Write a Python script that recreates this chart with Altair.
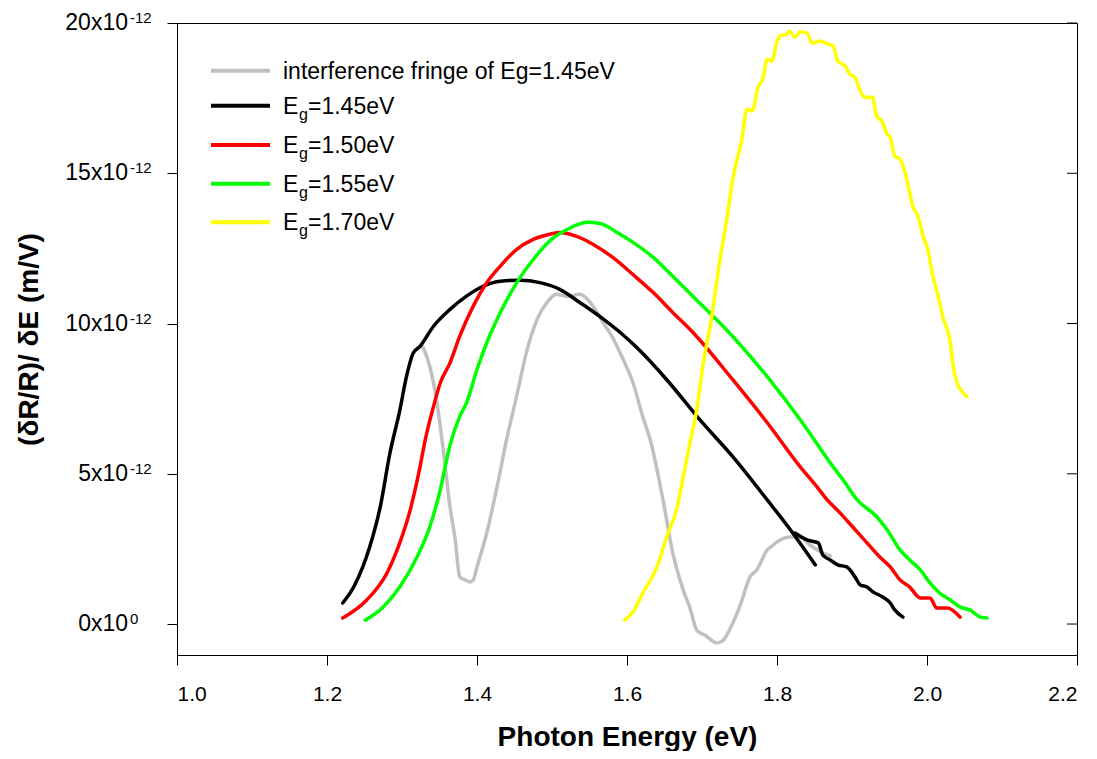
import altair as alt
import pandas as pd

# ---------------- data (y values in units of 1e-12 m/V) ----------------
fringe_E = [1.328, 1.337, 1.346, 1.355, 1.364, 1.371, 1.377, 1.384, 1.391, 1.395, 1.400, 1.413,
            1.427, 1.440, 1.453, 1.466, 1.480, 1.493, 1.506, 1.520, 1.537, 1.551, 1.560, 1.568,
            1.577, 1.587, 1.595, 1.608, 1.621, 1.631, 1.648, 1.661, 1.675, 1.684, 1.693, 1.704,
            1.720, 1.727, 1.741, 1.751, 1.764, 1.773, 1.787, 1.795, 1.804, 1.817, 1.831, 1.844,
            1.861, 1.871]
fringe_V = [9.22, 8.58, 7.47, 5.80, 3.90, 2.80, 1.57, 1.47, 1.40, 1.47, 1.90, 3.03,
            4.60, 6.20, 7.60, 9.05, 10.13, 10.69, 10.97, 10.90, 10.97, 10.70, 10.37, 10.03,
            9.70, 9.23, 8.80, 8.03, 6.90, 6.13, 4.13, 2.37, 1.13, 0.53, -0.20, -0.37,
            -0.63, -0.57, 0.03, 0.63, 1.57, 1.80, 2.47, 2.63, 2.80, 2.90, 2.90, 2.63,
            2.37, 2.27]

eg145_E = [1.221, 1.237, 1.257, 1.271, 1.284, 1.297, 1.306, 1.315, 1.324, 1.342, 1.364, 1.386,
           1.408, 1.431, 1.457, 1.484, 1.511, 1.537, 1.564, 1.591, 1.613, 1.653, 1.697, 1.741,
           1.787, 1.821, 1.851]
eg145_V = [0.70, 1.30, 2.57, 3.90, 5.70, 7.10, 8.24, 9.02, 9.24, 9.91, 10.47, 10.91,
           11.24, 11.41, 11.44, 11.36, 11.13, 10.70, 10.23, 9.70, 9.20, 8.13, 6.80, 5.57,
           4.13, 3.03, 1.97]
eg145_tail_E = [1.824, 1.840, 1.855, 1.861, 1.871, 1.881, 1.893, 1.904, 1.911, 1.920, 1.928,
                1.941, 1.951, 1.957, 1.968]
eg145_tail_V = [3.03, 2.80, 2.70, 2.30, 2.13, 1.97, 1.90, 1.57, 1.30, 1.23, 1.07,
                0.90, 0.70, 0.47, 0.23]

eg150_E = [1.221, 1.253, 1.280, 1.297, 1.311, 1.324, 1.331, 1.342, 1.351, 1.364, 1.377, 1.395,
           1.413, 1.431, 1.453, 1.475, 1.497, 1.511, 1.533, 1.555, 1.581, 1.608, 1.635, 1.661,
           1.688, 1.741, 1.787, 1.831, 1.853, 1.867, 1.884, 1.901, 1.920, 1.937, 1.951, 1.964,
           1.977, 1.991, 2.004, 2.013, 2.027, 2.044]
eg150_V = [0.20, 0.80, 1.70, 2.70, 3.80, 5.23, 6.13, 7.24, 8.02, 8.69, 9.58, 10.58,
           11.36, 11.91, 12.47, 12.80, 12.97, 13.03, 12.90, 12.63, 12.20, 11.63, 11.03, 10.37,
           9.70, 8.13, 6.70, 5.23, 4.57, 4.13, 3.70, 3.23, 2.70, 2.23, 1.90, 1.47,
           1.23, 0.87, 0.87, 0.53, 0.53, 0.23]

eg155_E = [1.251, 1.275, 1.297, 1.320, 1.337, 1.351, 1.364, 1.377, 1.386, 1.400, 1.413, 1.431,
           1.453, 1.475, 1.497, 1.520, 1.547, 1.564, 1.587, 1.608, 1.635, 1.661, 1.688, 1.741,
           1.787, 1.831, 1.875, 1.888, 1.907, 1.933, 1.947, 1.964, 1.977, 1.991, 2.004, 2.017,
           2.031, 2.044, 2.057, 2.071, 2.080]
eg155_V = [0.13, 0.57, 1.23, 2.23, 3.23, 4.47, 5.95, 6.91, 7.36, 8.47, 9.36, 10.36,
           11.36, 12.13, 12.75, 13.13, 13.37, 13.33, 13.03, 12.70, 12.20, 11.57, 10.90, 9.57,
           8.23, 6.80, 5.23, 4.80, 4.13, 3.57, 3.13, 2.47, 2.13, 1.80, 1.37, 1.03,
           0.80, 0.57, 0.47, 0.23, 0.20]

eg170_E = [1.597, 1.608, 1.621, 1.640, 1.653, 1.667, 1.675, 1.684, 1.693, 1.701, 1.713, 1.724,
           1.733, 1.741, 1.753, 1.760, 1.767, 1.775, 1.781, 1.787, 1.793, 1.800, 1.804, 1.813,
           1.817, 1.824, 1.831, 1.840, 1.847, 1.857, 1.868, 1.875, 1.881, 1.891, 1.897, 1.904,
           1.911, 1.917, 1.927, 1.933, 1.940, 1.947, 1.951, 1.957, 1.964, 1.973, 1.981, 1.988,
           1.995, 2.001, 2.008, 2.015, 2.021, 2.031, 2.035, 2.040, 2.047, 2.053]
eg170_V = [0.13, 0.40, 1.03, 1.90, 2.90, 3.90, 4.90, 6.03, 7.13, 8.57, 10.23, 12.13,
           13.47, 14.80, 16.13, 17.13, 17.07, 17.90, 18.13, 18.80, 18.73, 19.37, 19.57, 19.63,
           19.73, 19.53, 19.70, 19.67, 19.33, 19.40, 19.30, 19.23, 18.73, 18.57, 18.30, 18.20,
           17.73, 17.53, 17.53, 16.90, 16.73, 16.30, 16.20, 15.57, 15.47, 14.80, 13.90, 13.57,
           12.90, 12.47, 11.57, 10.90, 10.23, 9.37, 8.57, 8.03, 7.73, 7.57]

x_ticks = [1.0, 1.2, 1.4, 1.6, 1.8, 2.0, 2.2]
y_tick_vals = [0, 5, 10, 15, 20]
y_tick_main = ["0x10", "5x10", "10x10", "15x10", "20x10"]
y_tick_exp = ["0", "-12", "-12", "-12", "-12"]

legend_names = ["interference fringe of Eg=1.45eV", "1.45eV", "1.50eV", "1.55eV", "1.70eV"]
series_colors = ["#c0c0c0", "#000000", "#ff0000", "#00ff00", "#ffff00"]

# ---------------- layout / style ----------------
FONT = "Liberation Sans"
W, H = 900, 632
xscale = alt.Scale(domain=[1.0, 2.2], nice=False, zero=False)
yscale = alt.Scale(domain=[-1.03, 20], nice=False, zero=False)

x_axis = alt.Axis(values=x_ticks, format=".1f", labelFontSize=21, labelFont=FONT,
                  labelColor="black", tickSize=10, tickColor="black", domainColor="black",
                  labelPadding=18, labelBaseline="top",
                  title="Photon Energy (eV)", titleFont=FONT, titleFontSize=28,
                  titleFontWeight="bold", titleColor="black", titleX=W / 2, titleY=90,
                  titleAlign="center", titleBaseline="alphabetic", grid=False)
y_axis = alt.Axis(values=y_tick_vals, labels=False, tickSize=10, tickColor="black",
                  domainColor="black", title="(δR/R)/ δE (m/V)", titleFont=FONT,
                  titleFontSize=28, titleFontWeight="bold", titleColor="black",
                  titleAngle=270, titleX=-140, titleY=316, titleAlign="center",
                  titleBaseline="alphabetic", grid=False)


def X(field="E"):
    return alt.X(f"{field}:Q", scale=xscale, axis=x_axis)


def Y(field="V"):
    return alt.Y(f"{field}:Q", scale=yscale, axis=y_axis)


def line_layer(E, V, color):
    df = pd.DataFrame({"E": E, "V": V})
    return alt.Chart(df).mark_line(color=color, strokeWidth=3.5, interpolate="monotone",
                                   strokeCap="round", strokeJoin="round").encode(
        x=X(), y=Y(), order=alt.Order("E:Q"))


layers = [
    line_layer(fringe_E, fringe_V, series_colors[0]),
    line_layer(eg145_E, eg145_V, series_colors[1]),
    line_layer(eg145_tail_E, eg145_tail_V, series_colors[1]),
    line_layer(eg150_E, eg150_V, series_colors[2]),
    line_layer(eg155_E, eg155_V, series_colors[3]),
    line_layer(eg170_E, eg170_V, series_colors[4]),
]

# right-side inward ticks
ticks_df = pd.DataFrame({"V": y_tick_vals, "main": y_tick_main, "exp": y_tick_exp})
layers.append(alt.Chart(ticks_df).mark_rule(color="black", strokeWidth=1).encode(
    y=Y(), x=alt.value(W - 10), x2=alt.value(W)))

# y tick labels with superscript exponent
layers.append(alt.Chart(ticks_df).mark_text(align="right", baseline="middle", fontSize=23,
                                            font=FONT, color="black").encode(
    y=Y(), x=alt.value(-49), text="main:N"))
layers.append(alt.Chart(ticks_df).mark_text(align="left", baseline="middle", fontSize=15,
                                            font=FONT, color="black", dy=-5).encode(
    y=Y(), x=alt.value(-47), text="exp:N"))

# manual legend (subscript g in E_g)
row_y = [47.7, 82.7, 122.0, 160.7, 199.3]
one = pd.DataFrame({"k": [0]})
for i, (name, col) in enumerate(zip(legend_names, series_colors)):
    ry = row_y[i]
    layers.append(alt.Chart(one).mark_rule(color=col, strokeWidth=4).encode(
        x=alt.value(34), x2=alt.value(93), y=alt.value(ry)))
    if i == 0:
        layers.append(alt.Chart(one).mark_text(align="left", baseline="alphabetic",
                                               fontSize=23, font=FONT, color="black").encode(
            x=alt.value(106), y=alt.value(ry + 8), text=alt.value(name)))
    else:
        layers.append(alt.Chart(one).mark_text(align="left", baseline="alphabetic",
                                               fontSize=23, font=FONT, color="black").encode(
            x=alt.value(106), y=alt.value(ry + 8), text=alt.value("E")))
        layers.append(alt.Chart(one).mark_text(align="left", baseline="alphabetic",
                                               fontSize=16, font=FONT, color="black").encode(
            x=alt.value(122), y=alt.value(ry + 14), text=alt.value("g")))
        layers.append(alt.Chart(one).mark_text(align="left", baseline="alphabetic",
                                               fontSize=23, font=FONT, color="black").encode(
            x=alt.value(131), y=alt.value(ry + 8), text=alt.value("=" + name)))

chart = alt.layer(*layers).properties(
    width=W, height=H,
    autosize=alt.AutoSizeParams(type="none"),
    padding={"left": 169, "top": 15, "right": 10, "bottom": 96},
    background="white",
).configure_view(stroke="black", strokeWidth=1).configure_axis(grid=False)

chart.save("out.html", embed_options={"renderer": "svg", "actions": False})
